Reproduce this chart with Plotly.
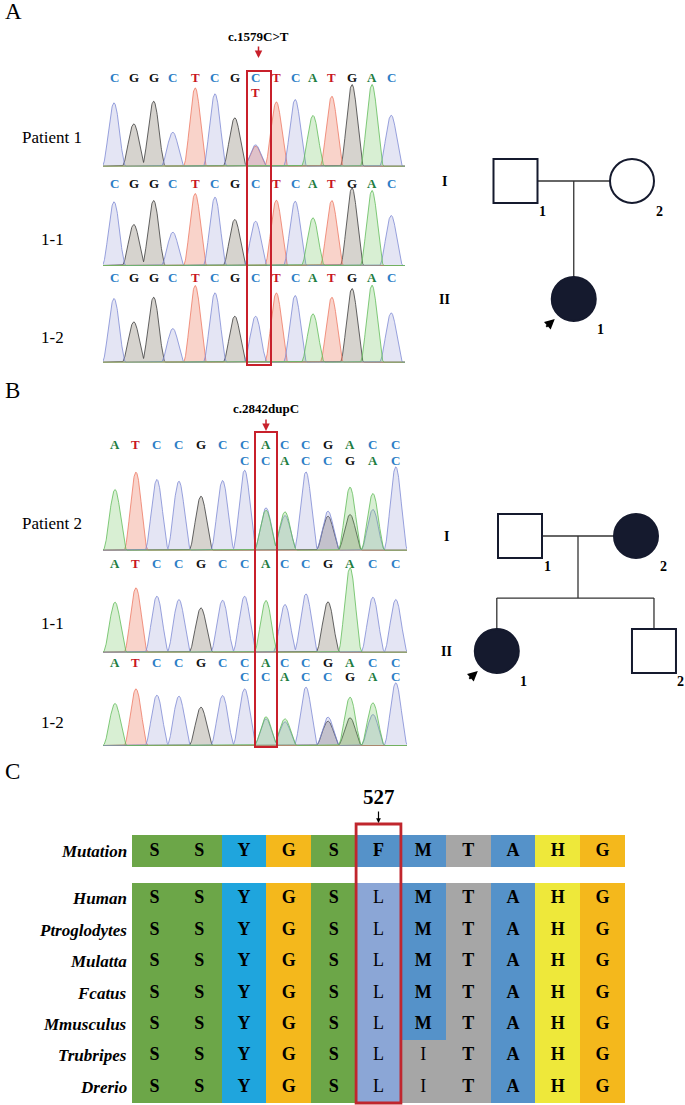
import numpy as np
import plotly.graph_objects as go

W, H = 685, 1105
SERIF = "Liberation Serif"

# ================= DATA =================
# ---- Panel A : c.1579C>T ----
seq_A = list("CGGCTCGCTCATGAC")
pos_A = [0, 1.0, 2.0, 2.97, 4.1, 5.1, 6.1, 7.15, 8.2, 9.15, 10.05, 11.0, 12.02, 13.03, 14.0]
h_A_patient1 = [190, 127, 195, 102, 235, 217, 145, 64, 193, 200, 152, 210, 245, 245, 153]
alt_A_patient1 = ["", "", "", "", "", "", "", "T", "", "", "", "", "", "", ""]
alt_h_A_patient1 = [0, 0, 0, 0, 0, 0, 0, 60, 0, 0, 0, 0, 0, 0, 0]
h_A_11 = [191, 123, 195, 100, 216, 205, 138, 133, 196, 193, 143, 195, 233, 225, 150]
h_A_12 = [191, 121, 195, 101, 230, 208, 138, 138, 208, 200, 145, 195, 221, 231, 148]

# ---- Panel B : c.2842dupC ----
seq_B = list("ATCCGCCACCGACC")
pos_B = [0, 0.97, 1.94, 2.96, 3.98, 4.98, 6.0, 6.99, 7.87, 8.84, 9.86, 10.88, 11.94, 13.0]
h_B_patient2 = [182, 234, 212, 207, 162, 209, 240, 120, 104, 235, 102, 189, 122, 250]
alt_B = ["", "", "", "", "", "", "C", "C", "A", "C", "C", "G", "A", "C"]
alt_h_B_patient2 = [0, 0, 0, 0, 0, 0, 0, 127, 115, 0, 117, 107, 170, 0]
h_B_11 = [150, 193, 168, 158, 133, 156, 168, 155, 143, 175, 151, 253, 165, 158]
h_B_12 = [126, 170, 151, 148, 115, 150, 170, 86, 71, 175, 73, 145, 93, 188]
alt_h_B_12 = [0, 0, 0, 0, 0, 0, 0, 80, 80, 0, 85, 83, 128, 0]
none15 = [""] * 15
zero15 = [0] * 15
none14 = [""] * 14
zero14 = [0] * 14

# ---- Pedigrees: (id number, x position, generation, sex, affected, proband) ----
ped_A = [(1, 0.0, 1, "M", False, False), (2, 2.0, 1, "F", False, False),
         (1, 1.0, 2, "F", True, True)]
ped_B = [(1, 0.0, 1, "M", False, False), (2, 2.0, 1, "F", True, False),
         (1, -0.4, 2, "F", True, True), (2, 2.31, 2, "M", False, False)]
sibship_y_B = 1.54

# ---- Panel C : conservation ----
residue_cols = list(range(11))
mutation_seq = list("SSYGSFMTAHG")
species = ["Human", "Ptroglodytes", "Mulatta", "Fcatus", "Mmusculus", "Trubripes", "Drerio"]
species_seqs = [list("SSYGSLMTAHG"), list("SSYGSLMTAHG"), list("SSYGSLMTAHG"),
                list("SSYGSLMTAHG"), list("SSYGSLMTAHG"), list("SSYGSLITAHG"),
                list("SSYGSLITAHG")]
mut_position = 5  # index of residue 527

res_color = {"S": "#6ca648", "Y": "#1fa5dd", "G": "#f4b81c", "F": "#5592c9",
             "L": "#8ba6d6", "M": "#5592c9", "T": "#a6a6a6", "A": "#5592c9",
             "H": "#eee83a", "I": "#a6a6a6"}

CH = {
    "A": dict(line="#62bd5a", fill="rgba(100,190,80,0.25)", text="#1e7d42"),
    "C": dict(line="#7f8ad4", fill="rgba(120,125,200,0.20)", text="#2c7ec6"),
    "G": dict(line="#3c3c3c", fill="rgba(90,80,60,0.25)", text="#111111"),
    "T": dict(line="#ee7a64", fill="rgba(235,110,80,0.30)", text="#c8161f"),
}

# ================= HELPERS =================
def py(px):
    return 1 - px / H

def pxx(px):
    return px / W

def sfx(k):
    return "" if k == 1 else str(k)

def peak_shape(xs, p, h, w):
    """raised-cosine peak of height h centred at p, half-support w"""
    d = np.abs(xs - p)
    return np.where(d < w, h * np.cos(np.pi * d / (2 * w)) ** 2, 0.0)

fig = go.Figure()
layout = dict(width=W, height=H, margin=dict(l=0, r=0, t=0, b=0),
              paper_bgcolor="white", plot_bgcolor="rgba(0,0,0,0)",
              showlegend=False, hovermode=False)
annotations = []
shapes = []

def text_ann(text, x, y, size, xref="paper", yref="paper", xanchor="center",
             color="black", bold=False, italic=False, **kw):
    t = text
    if italic:
        t = "<i>" + t + "</i>"
    if bold:
        t = "<b>" + t + "</b>"
    annotations.append(dict(text=t, x=x, y=y, xref=xref, yref=yref, xanchor=xanchor,
                            yanchor="middle", showarrow=False,
                            font=dict(family=SERIF, size=size, color=color), **kw))

# ================= CHROMATOGRAMS =================
# (label, label_y, seq, pos, heights, alt letters, alt heights, baseline_px,
#  letter_y, alt_letter_y, x0px, x1px, origin_px, spacing_px, half-width)
chroms = [
    ("Patient 1", 137, seq_A, pos_A, h_A_patient1, alt_A_patient1, alt_h_A_patient1,
     166.7, 77.5, 92.0, 103, 405, 114.0, 19.8, 0.6),
    ("1-1", 239, seq_A, pos_A, h_A_11, none15, zero15,
     266.0, 183.3, None, 103, 405, 114.0, 19.8, 0.6),
    ("1-2", 337, seq_A, pos_A, h_A_12, none15, zero15,
     362.7, 277.3, None, 103, 405, 114.0, 19.8, 0.6),
    ("Patient 2", 523, seq_B, pos_B, h_B_patient2, alt_B, alt_h_B_patient2,
     550.7, 444.5, 460.0, 103, 407, 115.0, 21.6, 0.56),
    ("1-1", 623, seq_B, pos_B, h_B_11, none14, zero14,
     652.7, 563.0, None, 103, 407, 115.0, 21.6, 0.56),
    ("1-2", 722, seq_B, pos_B, h_B_12, alt_B, alt_h_B_12,
     746.0, 662.2, 676.2, 103, 407, 115.0, 21.6, 0.56),
]

for k, (label, label_y, seq, pos, hts, alts, alt_hts, base, ly, aly,
        x0, x1, org, sp, hw) in enumerate(chroms, start=1):
    s = sfx(k)
    xr = [(x0 - org) / sp, (x1 - org) / sp]
    layout["xaxis" + s] = dict(domain=[pxx(x0), pxx(x1)], range=xr, visible=False,
                               fixedrange=True, anchor="y" + s)
    layout["yaxis" + s] = dict(domain=[py(base), py(base - 100)], range=[0, 300],
                               visible=False, fixedrange=True, anchor="x" + s)
    xs = np.linspace(xr[0], xr[1], 1200)
    peaks = {b: [] for b in "ACGT"}
    for b, p, h in zip(seq, pos, hts):
        peaks[b].append((p, h))
    for b, p, h in zip(alts, pos, alt_hts):
        if b and h > 0:
            peaks[b].append((p, h))
    for b in ["G", "T", "C", "A"]:
        ys = np.zeros_like(xs)
        for p, h in peaks[b]:
            ys = np.maximum(ys, peak_shape(xs, p, h, hw))
        fig.add_trace(go.Scatter(x=xs, y=ys + 1.5, mode="lines", fill="tozeroy",
                                 line=dict(color=CH[b]["line"], width=0.8),
                                 fillcolor=CH[b]["fill"], xaxis="x" + s, yaxis="y" + s,
                                 hoverinfo="skip"))
    for b, p in zip(seq, pos):
        text_ann(b, p, py(ly), 13, xref="x" + s, color=CH[b]["text"], bold=True)
    if aly is not None:
        for b, p in zip(alts, pos):
            if b:
                text_ann(b, p, py(aly), 13, xref="x" + s, color=CH[b]["text"], bold=True)
    text_ann(label, pxx(52), py(label_y), 17)

# red boxes + mutation labels
RED = "#c8202b"
shapes.append(dict(type="rect", xref="paper", yref="paper", x0=pxx(247), x1=pxx(271),
                   y0=py(365), y1=py(71), line=dict(color=RED, width=2)))
shapes.append(dict(type="rect", xref="paper", yref="paper", x0=pxx(255), x1=pxx(277),
                   y0=py(747), y1=py(432), line=dict(color=RED, width=2)))
text_ann("c.1579C&gt;T", pxx(258.5), py(37), 13, bold=True)
text_ann("c.2842dupC", pxx(266), py(408), 13, bold=True)
for xh, yh in [(258.5, 58), (266, 431)]:
    annotations.append(dict(x=pxx(xh), y=py(yh), xref="paper", yref="paper", text="",
                            showarrow=True, ax=0, ay=-13, arrowhead=2, arrowsize=1,
                            arrowwidth=1.5, arrowcolor=RED))

# panel letters
text_ann("A", pxx(3), py(12), 23, xanchor="left")
text_ann("B", pxx(3), py(390), 23, xanchor="left")
text_ann("C", pxx(3), py(771), 23, xanchor="left")

# ================= PEDIGREES =================
NAVY = "#151a2e"
ped_specs = [
    # members, axis k, x-origin px, px/unit, gen1 px, px/gen, y-domain px, roman-x px
    (ped_A, 7, 515.5, 58.25, 181, 118, (130, 350), 444, None),
    (ped_B, 8, 520.0, 58.0, 536, 115, (490, 710), 447, sibship_y_B),
]
for members, k, ox, ux, g1, ug, (ytop, ybot), romx, sib in ped_specs:
    s = sfx(k)
    layout["xaxis" + s] = dict(domain=[pxx(430), 1], range=[(430 - ox) / ux, (685 - ox) / ux],
                               visible=False, fixedrange=True, anchor="y" + s)
    layout["yaxis" + s] = dict(domain=[py(ybot), py(ytop)],
                               range=[1 + (ybot - g1) / ug, 1 + (ytop - g1) / ug],
                               visible=False, fixedrange=True, anchor="x" + s)
    parents = [m for m in members if m[2] == 1]
    kids = [m for m in members if m[2] == 2]
    lx, ly = [], []
    lx += [parents[0][1], parents[1][1], None]
    ly += [1, 1, None]
    mid = (parents[0][1] + parents[1][1]) / 2
    if sib is None:
        lx += [mid, mid, None]
        ly += [1, kids[0][2], None]
    else:
        lx += [mid, mid, None, min(m[1] for m in kids), max(m[1] for m in kids), None]
        ly += [1, sib, None, sib, sib, None]
        for m in kids:
            lx += [m[1], m[1], None]
            ly += [sib, m[2], None]
    fig.add_trace(go.Scatter(x=lx, y=ly, mode="lines", line=dict(color="#333333", width=1.3),
                             xaxis="x" + s, yaxis="y" + s, hoverinfo="skip", cliponaxis=False))
    fig.add_trace(go.Scatter(
        x=[m[1] for m in members], y=[m[2] for m in members], mode="markers",
        marker=dict(symbol=["square" if m[3] == "M" else "circle" for m in members],
                    size=44, color=[NAVY if m[4] else "white" for m in members],
                    line=dict(color=NAVY, width=2)),
        xaxis="x" + s, yaxis="y" + s, hoverinfo="skip", cliponaxis=False))
    for m in members:
        text_ann(str(m[0]), m[1], m[2], 14, xref="x" + s, yref="y" + s, bold=True,
                 xshift=27, yshift=-30)
        if m[5]:
            annotations.append(dict(x=m[1], y=m[2], xref="x" + s, yref="y" + s, text="",
                                    showarrow=True, xshift=-19, yshift=-20, ax=-10, ay=9,
                                    arrowhead=2, arrowsize=1, arrowwidth=2,
                                    arrowcolor="black"))
    text_ann("I", pxx(romx), 1, 14, yref="y" + s, bold=True)
    text_ann("II", pxx(romx), 2, 14, yref="y" + s, bold=True)

# ================= PANEL C : ALIGNMENT =================
res_list = list(res_color.keys())
n = len(res_list)
cscale = []
for i, r in enumerate(res_list):
    cscale.append([i / n, res_color[r]])
    cscale.append([(i + 1) / n, res_color[r]])

def res_text(r):
    return r if r in ("L", "I") else "<b>" + r + "</b>"

tx0, tx1 = 132, 625
layout["xaxis9"] = dict(domain=[pxx(tx0), pxx(tx1)], range=[-0.5, 10.5], visible=False,
                        fixedrange=True, anchor="y9")
layout["yaxis9"] = dict(domain=[py(867), py(835)], range=[0.5, -0.5], visible=False,
                        fixedrange=True, anchor="x9")
fig.add_trace(go.Heatmap(z=[[res_list.index(r) for r in mutation_seq]], x=residue_cols, y=[0],
                         colorscale=cscale, zmin=-0.5, zmax=n - 0.5, showscale=False,
                         hoverinfo="skip", xaxis="x9", yaxis="y9"))
fig.add_trace(go.Scatter(x=residue_cols, y=[0] * 11, mode="text",
                         text=[res_text(r) for r in mutation_seq],
                         textfont=dict(family=SERIF, size=18, color="black"),
                         xaxis="x9", yaxis="y9", hoverinfo="skip", cliponaxis=False))
text_ann("Mutation", pxx(129), 0, 17, yref="y9", xanchor="right", bold=True, italic=True)

layout["xaxis10"] = dict(domain=[pxx(tx0), pxx(tx1)], range=[-0.5, 10.5], visible=False,
                         fixedrange=True, anchor="y10")
layout["yaxis10"] = dict(domain=[py(1103), py(883)], range=[6.5, -0.5], visible=False,
                         fixedrange=True, anchor="x10")
fig.add_trace(go.Heatmap(z=[[res_list.index(r) for r in row] for row in species_seqs],
                         x=residue_cols, y=list(range(len(species))),
                         colorscale=cscale, zmin=-0.5, zmax=n - 0.5, showscale=False,
                         hoverinfo="skip", xaxis="x10", yaxis="y10"))
for i, row in enumerate(species_seqs):
    fig.add_trace(go.Scatter(x=residue_cols, y=[i] * 11, mode="text",
                             text=[res_text(r) for r in row],
                             textfont=dict(family=SERIF, size=18, color="black"),
                             xaxis="x10", yaxis="y10", hoverinfo="skip", cliponaxis=False))
    text_ann(species[i], pxx(129), i, 17, yref="y10", xanchor="right", bold=True, italic=True)

shapes.append(dict(type="rect", xref="x10", yref="paper", x0=mut_position - 0.5,
                   x1=mut_position + 0.5, y0=py(1103), y1=py(824),
                   line=dict(color="#c0262d", width=2.8)))
text_ann("527", mut_position, py(797), 21, xref="x10", bold=True)
annotations.append(dict(x=mut_position, y=py(823), xref="x10", yref="paper", text="",
                        showarrow=True, ax=0, ay=-13, arrowhead=2, arrowsize=0.8,
                        arrowwidth=1.2, arrowcolor="black"))

layout["annotations"] = annotations
layout["shapes"] = shapes
fig.update_layout(**layout)

fig.write_html("out.html", config={"displayModeBar": False},
               post_script="document.body.style.margin='0';")
